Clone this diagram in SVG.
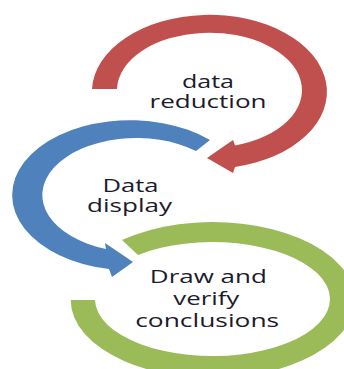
<svg xmlns="http://www.w3.org/2000/svg" width="344" height="369" viewBox="0 0 344 369">
<style>
.lbl{font-family:"Open Sans","Noto Sans","DejaVu Sans",sans-serif;font-size:19px;fill:#1b1b2b;text-anchor:middle}
</style>
<rect width="344" height="369" fill="#ffffff"/>
<g id="connectors">
<path id="arrow-red" fill="#C0504D" d="M 92 89 A 117.5 77 0 1 1 235 167 L 233 173 L 207 158 L 233 140 L 235 145.5 A 92.5 57.5 0 1 0 117 89 Z"/>
<path id="arrow-blue" fill="#4F81BD" d="M 210 140 A 118 75 0 1 0 109 269 L 112 277 L 133 262 L 105 243 L 106 249 A 94 57 0 1 1 196 151 Z"/>
<path id="arrow-green" fill="#9BBB59" d="M 122 240 A 142 78 0 1 1 70.7 300 L 95 300 A 117.5 57 0 1 0 138 255 Z"/>
</g>
<g id="node-reduction">
<text class="lbl" x="208" y="87.5" textLength="52" lengthAdjust="spacingAndGlyphs">data</text>
<text class="lbl" x="208" y="108" textLength="117" lengthAdjust="spacingAndGlyphs">reduction</text>
</g>
<g id="node-display">
<text class="lbl" x="130.5" y="191.5" textLength="56" lengthAdjust="spacingAndGlyphs">Data</text>
<text class="lbl" x="129.5" y="211.5" textLength="85" lengthAdjust="spacingAndGlyphs">display</text>
</g>
<g id="node-conclusions">
<text class="lbl" x="208.3" y="283" textLength="117" lengthAdjust="spacingAndGlyphs">Draw and</text>
<text class="lbl" x="206.3" y="305" textLength="66" lengthAdjust="spacingAndGlyphs">verify</text>
<text class="lbl" x="207.2" y="326.5" textLength="144" lengthAdjust="spacingAndGlyphs">conclusions</text>
</g>
</svg>
